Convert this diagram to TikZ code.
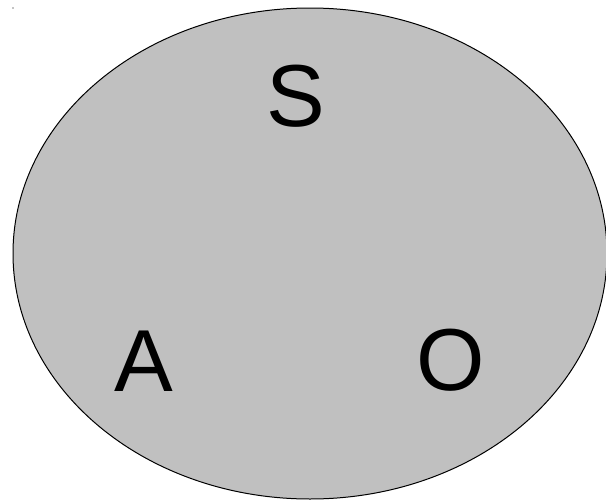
\documentclass[tikz,border=0pt]{standalone}
\usepackage{fontspec}
\setmainfont{Liberation Sans}
\definecolor{setgray}{HTML}{C0C0C0}
\begin{document}
\begin{tikzpicture}[x=1pt, y=-1pt, every node/.style={font=\fontsize{88}{88}\selectfont, inner sep=0pt, anchor=base}]
    % Parameters
    \def\cx{310}   % centre of the ellipse
    \def\cy{253.5}
    \def\rx{297}   % radii
    \def\ry{245.5}

    % Canvas
    \useasboundingbox (0, 0) rectangle (606, 501);
    \fill (13, 8) circle (0.6);

    % Draw the ellipse
    \draw[line width=1pt, fill=setgray] (\cx, \cy) ellipse [x radius=\rx, y radius=\ry];

    % Add letters
    \node (s) at (295.5, 126) {S};
    \node (a) at (143.5, 391) {A};
    \node (o) at (451, 390) {O};
\end{tikzpicture}
\end{document}
